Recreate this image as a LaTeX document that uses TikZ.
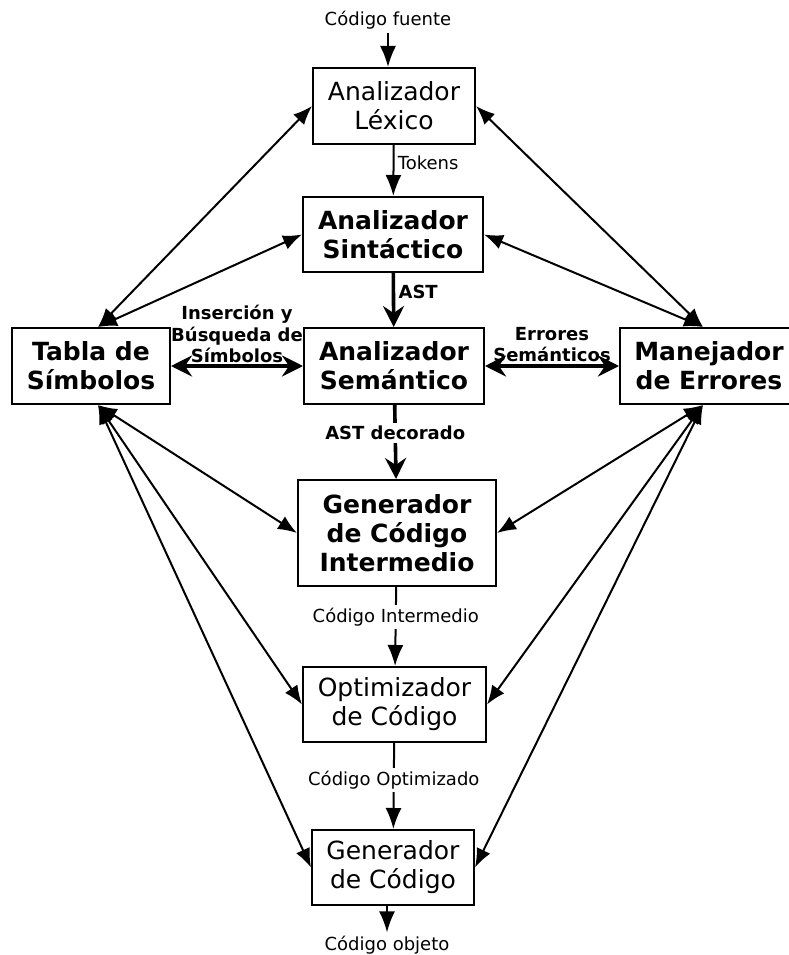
\documentclass[tikz,border=0pt]{standalone}
\usepackage{fontspec}
\setmainfont{DejaVu Sans}
\usetikzlibrary{arrows.meta}

\newcommand\caja{\fontsize{25}{29}\selectfont}
\newcommand\rotulo{\fontsize{18}{21.5}\selectfont}

\tikzset{
  etiq/.style={align=center,font=\rotulo},
  etiqb/.style={align=center,font=\rotulo\bfseries},
  fina/.style={line width=2pt,-{Latex[length=21pt,width=16pt]}},
  gruesa/.style={line width=3.6pt,-{Stealth[length=21pt,width=21pt,inset=7pt]}},
  gruesad/.style={line width=3.6pt,{Stealth[length=21pt,width=21pt,inset=7pt]}-{Stealth[length=21pt,width=21pt,inset=7pt]}},
  lateral/.style={line width=2pt,{Latex[length=19pt,width=15pt]}-{Latex[length=19pt,width=15pt]}}
}

\begin{document}
\begin{tikzpicture}[x=1pt,y=-1pt]
			\useasboundingbox (0,0) rectangle (788,955);
			\begin{scope}[every node/.style={rectangle,draw,line width=2pt,align=center,inner sep=0pt,font=\caja}]
				\node [minimum width=162pt,minimum height=76pt] (lex) at (394,106) {Analizador\\Léxico};
				\node [minimum width=180pt,minimum height=75pt,font=\caja\bfseries] (sin) at (393,234.5) {Analizador\\Sintáctico};
				\node [minimum width=180pt,minimum height=76pt,font=\caja\bfseries] (sem) at (394,366) {Analizador\\Semántico};
				\node [minimum width=158pt,minimum height=76pt,font=\caja\bfseries] (tab) at (91,366) {Tabla de\\Símbolos};
				\node [minimum width=178pt,minimum height=76pt,font=\caja\bfseries] (man) at (709,366) {Manejador\\de Errores};
				\node [minimum width=198pt,minimum height=106pt,font=\caja\bfseries] (gci) at (397,533) {Generador\\de Código\\Intermedio};
				\node [minimum width=183pt,minimum height=75pt] (opt) at (394.5,704.5) {Optimizador\\de Código};
				\node [minimum width=162pt,minimum height=75pt] (gen) at (393,867.5) {Generador\\de Código};
			\end{scope}
			
			\node [etiq] (src) at (388,20) {Código fuente};
			\node [etiq] (obj) at (387,945) {Código objeto};
			
			\begin{scope}[every edge/.style={draw=black}]
				\path [fina] (src) edge (src |- lex.north);
				\path [fina] (lex) edge node [etiq,right,pos=0.35] {Tokens} (sin);
				\path [gruesa] (sin) edge node [etiqb,right,pos=0.35] {AST} (sem);
				\path [gruesa] (sem) edge node [etiqb,fill=white,pos=0.38] {AST decorado} (gci);
				\path [fina] (gci) edge node [etiq,fill=white,pos=0.38] {Código Intermedio} (opt);
				\path [fina] (opt) edge node [etiq,fill=white,pos=0.43] {Código Optimizado} (gen);
				\path [fina] (obj |- gen.south) edge (obj);
				
				\path [gruesad] (tab) edge node [etiqb,above,inner sep=1pt] {Inserción y\\Búsqueda de\\Símbolos} (sem);
				\path [gruesad] (sem) edge node [etiqb,above,inner sep=2pt] {Errores\\Semánticos} (man);
				
				\path [lateral] ([xshift=7pt]tab.north) edge (lex.west) edge (sin.west);
				\path [lateral] ([xshift=7pt]tab.south) edge (gci.west) edge (opt.west) edge (gen.west);
				\path [lateral] ([xshift=-6pt]man.north) edge (lex.east) edge (sin.east);
				\path [lateral] ([xshift=-6pt]man.south) edge (gci.east) edge (opt.east) edge (gen.east);
			\end{scope}
		\end{tikzpicture}
\end{document}
